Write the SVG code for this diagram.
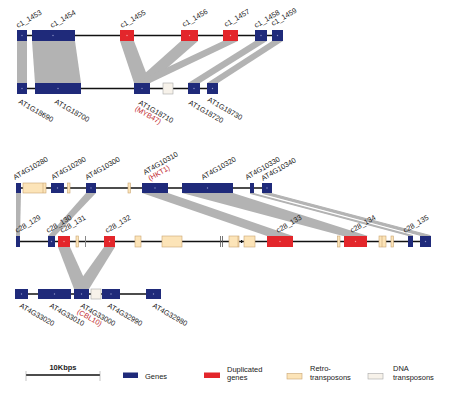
<svg xmlns="http://www.w3.org/2000/svg" width="457" height="401" viewBox="0 0 457 401">
<style>
.g{fill:#1f2a7a}
.d{fill:#e3262b}
.r{fill:#fce4b8;stroke:#c9a572;stroke-width:0.6}
.t{fill:#f7f2ea;stroke:#a8a8a8;stroke-width:0.6}
.b{fill:#b3b3b3}
.bw{fill:#b3b3b3;stroke:#b3b3b3;stroke-width:1.2;stroke-linejoin:round}
.ln{stroke:#111;stroke-width:1.3}
.dot{fill:#8f96c8}
.dotr{fill:#f4a0a0}
.lb{font-family:"Liberation Sans",Arial,sans-serif;font-size:7.3px;fill:#1a1a1a}
.hl{fill:#c0272d}
.lg{font-family:"Liberation Sans",Arial,sans-serif;font-size:7.5px;fill:#222}
</style>
<rect width="457" height="401" fill="#fff"/>
<g id="connectors">
<polygon class="b" points="17,41 27,41 27,83 17,83"/>
<polygon class="b" points="32,41 75,41 81,83 35,83"/>
<polygon class="b" points="120,41 134,41 150,83 134,83"/>
<polygon class="b" points="181,41 198,41 150,83 134,83"/>
<polygon class="b" points="223,41 238,41 150,83 134,83"/>
<polygon class="b" points="255,41 267,41 200,83 188,83"/>
<polygon class="b" points="272,41 283,41 218,83 207,83"/>
<polygon class="b" points="16,193 21,193 20,236 16,236"/>
<polygon class="b" points="86,193 96,193 55,236 48,236"/>
<polygon class="b" points="142,193 168,193 293,236 267,236"/>
<polygon class="b" points="182,193 233,193 368,236 343,236"/>
<polygon class="bw" points="250.5,193.5 253.5,193.5 412.5,235.5 408.5,235.5"/>
<polygon class="bw" points="263,193.5 271,193.5 430,235.5 421,235.5"/>
<polygon class="b" points="58,247 70,247 89,289 74,289"/>
<polygon class="b" points="104,247 115,247 89,289 74,289"/>
</g>
<g id="backbones">
<line class="ln" x1="17" y1="35.5" x2="283" y2="35.5"/>
<line class="ln" x1="17" y1="88.5" x2="218" y2="88.5"/>
<line class="ln" x1="16" y1="188" x2="272" y2="188"/>
<line class="ln" x1="16" y1="241.5" x2="431" y2="241.5"/>
<line class="ln" x1="15" y1="294" x2="161" y2="294"/>
</g>
<g id="c1_1453"><rect class="g" x="17" y="30" width="10" height="11"/><circle class="dot" cx="22" cy="35.5" r="0.7"/><text class="lb" transform="translate(18,28) rotate(-30)">c1_1453</text></g>
<g id="c1_1454"><rect class="g" x="32" y="30" width="43" height="11"/><circle class="dot" cx="53" cy="35.5" r="0.7"/><text class="lb" transform="translate(52,28) rotate(-30)">c1_1454</text></g>
<g id="c1_1455"><rect class="d" x="120" y="30" width="14" height="11"/><circle class="dotr" cx="127" cy="35.5" r="0.7"/><text class="lb" transform="translate(122,28) rotate(-30)">c1_1455</text></g>
<g id="c1_1456"><rect class="d" x="181" y="30" width="17" height="11"/><circle class="dotr" cx="189.5" cy="35.5" r="0.7"/><text class="lb" transform="translate(184,27) rotate(-30)">c1_1456</text></g>
<g id="c1_1457"><rect class="d" x="223" y="30" width="15" height="11"/><circle class="dotr" cx="230.5" cy="35.5" r="0.7"/><text class="lb" transform="translate(226,27) rotate(-30)">c1_1457</text></g>
<g id="c1_1458"><rect class="g" x="255" y="30" width="12" height="11"/><circle class="dot" cx="261" cy="35.5" r="0.7"/><text class="lb" transform="translate(256,28) rotate(-30)">c1_1458</text></g>
<g id="c1_1459"><rect class="g" x="272" y="30" width="11" height="11"/><circle class="dot" cx="277.5" cy="35.5" r="0.7"/><text class="lb" transform="translate(273,26) rotate(-30)">c1_1459</text></g>
<g id="AT1G18690"><rect class="g" x="17" y="83" width="10" height="11"/><circle class="dot" cx="22" cy="88.5" r="0.7"/><text class="lb" transform="translate(18,103) rotate(30)">AT1G18690</text></g>
<g id="AT1G18700"><rect class="g" x="35" y="83" width="46" height="11"/><circle class="dot" cx="58" cy="88.5" r="0.7"/><text class="lb" transform="translate(54,103) rotate(30)">AT1G18700</text></g>
<g id="AT1G18710"><rect class="g" x="134" y="83" width="16" height="11"/><circle class="dot" cx="142" cy="88.5" r="0.7"/><text class="lb" transform="translate(138,104) rotate(30)">AT1G18710</text><text class="lb hl" transform="translate(134.5,110) rotate(30)">(MYB47)</text></g>
<g id="dna1"><rect class="t" x="163" y="83" width="10" height="11"/></g>
<g id="AT1G18720"><rect class="g" x="188" y="83" width="12" height="11"/><circle class="dot" cx="194" cy="88.5" r="0.7"/><text class="lb" transform="translate(188,104) rotate(30)">AT1G18720</text></g>
<g id="AT1G18730"><rect class="g" x="207" y="83" width="11" height="11"/><circle class="dot" cx="212.5" cy="88.5" r="0.7"/><text class="lb" transform="translate(207,101) rotate(30)">AT1G18730</text></g>
<g id="AT4G10280"><rect class="g" x="16" y="183" width="5" height="10"/><text class="lb" transform="translate(15,180) rotate(-30)">AT4G10280</text></g>
<g id="retro1"><rect class="r" x="23" y="183" width="23" height="10"/><line x1="43" y1="183" x2="43" y2="193" stroke="#c9a572" stroke-width="0.6"/></g>
<g id="AT4G10290"><rect class="g" x="51" y="183" width="13" height="10"/><circle class="dot" cx="57.5" cy="188" r="0.7"/><text class="lb" transform="translate(53,180) rotate(-30)">AT4G10290</text></g>
<g id="retro2"><rect class="r" x="67.5" y="183" width="2.5" height="10"/></g>
<g id="AT4G10300"><rect class="g" x="86" y="183" width="10" height="10"/><circle class="dot" cx="91" cy="188" r="0.7"/><text class="lb" transform="translate(87,180) rotate(-30)">AT4G10300</text></g>
<g id="retro3"><rect class="r" x="128" y="183" width="2.5" height="10"/></g>
<g id="AT4G10310"><rect class="g" x="142" y="183" width="26" height="10"/><circle class="dot" cx="155" cy="188" r="0.7"/><text class="lb" transform="translate(145,175) rotate(-30)">AT4G10310</text><text class="lb hl" transform="translate(150,181) rotate(-30)">(HKT1)</text></g>
<g id="AT4G10320"><rect class="g" x="182" y="183" width="51" height="10"/><circle class="dot" cx="207.5" cy="188" r="0.7"/><text class="lb" transform="translate(203,180) rotate(-30)">AT4G10320</text></g>
<g id="AT4G10330"><rect class="g" x="250" y="183" width="4" height="10"/><text class="lb" transform="translate(247,180) rotate(-30)">AT4G10330</text></g>
<g id="AT4G10340"><rect class="g" x="262" y="183" width="10" height="10"/><circle class="dot" cx="267" cy="188" r="0.7"/><text class="lb" transform="translate(263,181) rotate(-30)">AT4G10340</text></g>
<g id="c28_129"><rect class="g" x="16" y="236" width="4" height="11"/><text class="lb" transform="translate(17,233) rotate(-30)">c28_129</text></g>
<g id="c28_130"><rect class="g" x="48" y="236" width="7" height="11"/><circle class="dot" cx="51.5" cy="241.5" r="0.7"/><text class="lb" transform="translate(48,233) rotate(-30)">c28_130</text></g>
<g id="c28_131"><rect class="d" x="58" y="236" width="12" height="11"/><circle class="dotr" cx="64" cy="241.5" r="0.7"/><text class="lb" transform="translate(62,233) rotate(-30)">c28_131</text></g>
<g id="retro4"><rect class="r" x="76" y="236" width="2.5" height="11"/></g>
<g id="dna2"><rect x="85" y="236" width="1" height="11" fill="#888"/></g>
<g id="c28_132"><rect class="d" x="104" y="236" width="11" height="11"/><circle class="dotr" cx="109.5" cy="241.5" r="0.7"/><text class="lb" transform="translate(107,233) rotate(-30)">c28_132</text></g>
<g id="retro5"><rect class="r" x="135" y="236" width="6" height="11"/></g>
<g id="retro6"><rect class="r" x="162" y="236" width="20" height="11"/></g>
<g id="dna3"><rect x="220" y="236" width="0.8" height="11" fill="#555"/><rect x="222" y="236" width="0.8" height="11" fill="#555"/></g>
<g id="retro7"><rect class="r" x="229" y="236" width="10" height="11"/><line x1="238" y1="236" x2="238" y2="247" stroke="#c9a572" stroke-width="0.6"/></g>
<g id="retro8"><rect class="r" x="244" y="236" width="11" height="11"/><rect x="241" y="240" width="1.2" height="3" fill="#111"/></g>
<g id="c28_133"><rect class="d" x="267" y="236" width="26" height="11"/><circle class="dotr" cx="280" cy="241.5" r="0.7"/><text class="lb" transform="translate(278,233) rotate(-30)">c28_133</text></g>
<g id="retro9"><rect class="r" x="337.5" y="236" width="2.5" height="11"/></g>
<g id="c28_134"><rect class="d" x="344" y="236" width="23" height="11"/><circle class="dotr" cx="355.5" cy="241.5" r="0.7"/><text class="lb" transform="translate(352,233) rotate(-30)">c28_134</text></g>
<g id="retro10"><rect class="r" x="379" y="236" width="7" height="11"/><line x1="382" y1="236" x2="382" y2="247" stroke="#c9a572" stroke-width="0.6"/></g>
<g id="retro11"><rect class="r" x="391" y="236" width="2.5" height="11"/></g>
<g id="c28_135"><rect class="g" x="408" y="236" width="5" height="11"/><rect class="g" x="420" y="236" width="11" height="11"/><circle class="dot" cx="425.5" cy="241.5" r="0.7"/><text class="lb" transform="translate(405,233) rotate(-30)">c28_135</text></g>
<g id="AT4G33020"><rect class="g" x="15" y="289" width="13" height="10"/><circle class="dot" cx="21.5" cy="294" r="0.7"/><text class="lb" transform="translate(19,307) rotate(30)">AT4G33020</text></g>
<g id="AT4G33010"><rect class="g" x="38" y="289" width="33" height="10"/><circle class="dot" cx="54.5" cy="294" r="0.7"/><text class="lb" transform="translate(49,307) rotate(30)">AT4G33010</text></g>
<g id="AT4G33000"><rect class="g" x="74" y="289" width="15" height="10"/><circle class="dot" cx="81.5" cy="294" r="0.7"/><text class="lb" transform="translate(80,307) rotate(30)">AT4G33000</text><text class="lb hl" transform="translate(76.5,313) rotate(30)">(CBL10)</text></g>
<g id="dna4"><rect class="t" x="91" y="289" width="10" height="10"/></g>
<g id="AT4G32990"><rect class="g" x="102" y="289" width="18" height="10"/><circle class="dot" cx="111" cy="294" r="0.7"/><text class="lb" transform="translate(107,307) rotate(30)">AT4G32990</text></g>
<g id="AT4G32980"><rect class="g" x="146" y="289" width="15" height="10"/><circle class="dot" cx="153.5" cy="294" r="0.7"/><text class="lb" transform="translate(152,307) rotate(30)">AT4G32980</text></g>
<g id="legend">
<line x1="26" y1="375" x2="100" y2="375" stroke="#111" stroke-width="1.5"/>
<line x1="26" y1="371" x2="26" y2="381" stroke="#888" stroke-width="0.5"/>
<line x1="100" y1="371" x2="100" y2="381" stroke="#888" stroke-width="0.5"/>
<text class="lg" x="63" y="370" text-anchor="middle" font-weight="bold">10Kbps</text>
<rect class="g" x="123" y="372.5" width="15" height="5.5"/>
<text class="lg" x="145" y="378.5">Genes</text>
<rect class="d" x="204" y="372.5" width="16" height="5.5"/>
<text class="lg" x="227" y="371.5">Duplicated</text>
<text class="lg" x="227" y="380">genes</text>
<rect class="r" x="287" y="373.5" width="15" height="5.5"/>
<text class="lg" x="310" y="371">Retro-</text>
<text class="lg" x="310" y="380">transposons</text>
<rect class="t" x="368" y="373.5" width="15" height="5.5"/>
<text class="lg" x="393" y="371">DNA</text>
<text class="lg" x="393" y="380">transposons</text>
</g>
</svg>
